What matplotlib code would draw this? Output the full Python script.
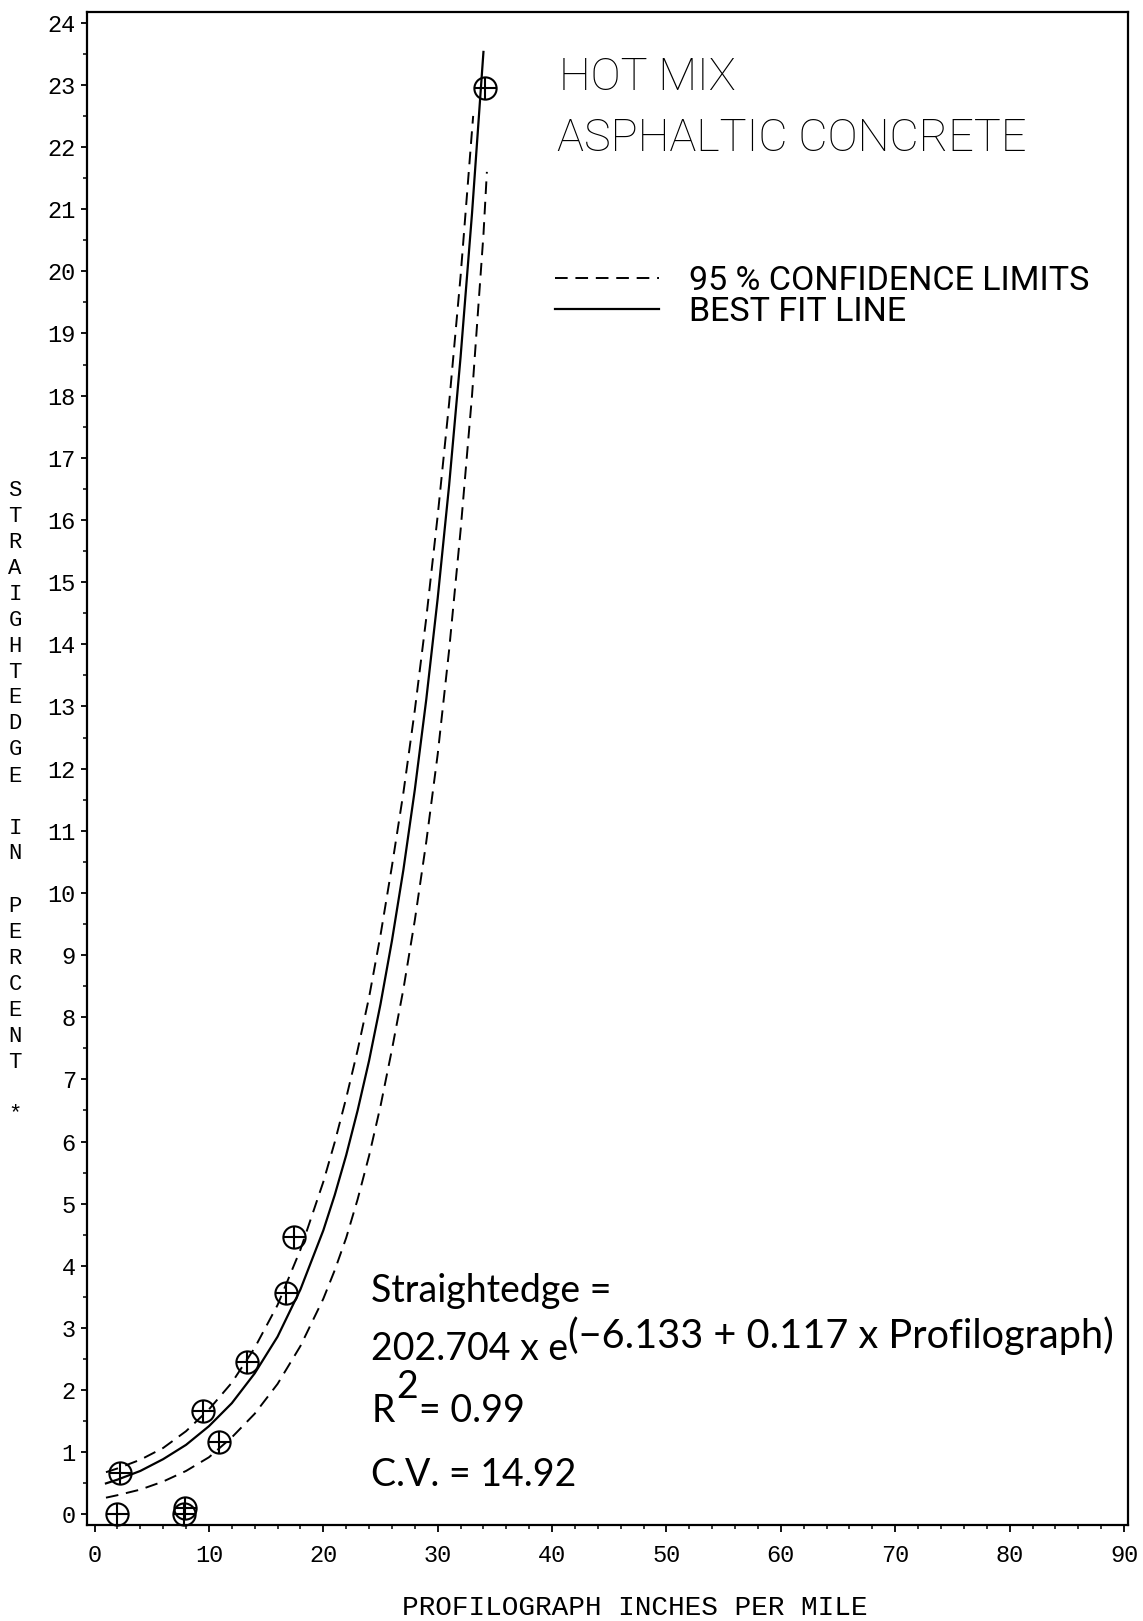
import matplotlib.pyplot as plt
from matplotlib.ticker import MultipleLocator

# measured sections: profilograph (in/mi) vs straightedge (%)
profilograph = [2.2, 2.0, 7.8, 7.9, 9.5, 10.9, 13.3, 16.7, 17.4, 34.1]
straightedge = [0.66, 0.0, 0.0, 0.1, 1.66, 1.17, 2.46, 3.57, 4.47, 22.95]

# best fit line
fit_x = [1, 2, 4, 6, 8, 10, 12, 14, 16, 18, 20, 21, 22, 23, 24, 25, 26, 27, 28,
         29, 30, 31, 32, 33, 34]
fit_y = [0.50, 0.56, 0.70, 0.89, 1.12, 1.42, 1.79, 2.27, 2.86, 3.62, 4.57, 5.14,
         5.78, 6.50, 7.30, 8.21, 9.23, 10.37, 11.66, 13.11, 14.74, 16.56, 18.62,
         20.93, 23.53]

# 95 % confidence limits
upper_x = [1, 2, 4, 6, 8, 10, 12, 14, 16, 18, 20, 21, 22, 23, 24, 25, 26, 27, 28,
           29, 30, 31, 32, 33.1]
upper_y = [0.68, 0.74, 0.88, 1.07, 1.34, 1.69, 2.12, 2.68, 3.37, 4.26, 5.35, 5.99,
           6.70, 7.47, 8.32, 9.32, 10.43, 11.61, 12.94, 14.42, 16.07, 17.88, 19.92,
           22.5]
lower_x = [1, 2, 4, 6, 8, 10, 12, 14, 16, 18, 20, 21, 22, 23, 24, 25, 26, 27, 28,
           29, 30, 31, 32, 33, 34, 34.3]
lower_y = [0.27, 0.31, 0.40, 0.53, 0.70, 0.92, 1.24, 1.62, 2.10, 2.71, 3.47, 3.93,
           4.45, 5.07, 5.77, 6.57, 7.48, 8.45, 9.56, 10.82, 12.23, 13.91, 15.83,
           18.0, 20.59, 21.6]

x_ticks = list(range(0, 91, 10))
y_ticks = list(range(0, 25))

mono = ['Liberation Mono', 'DejaVu Sans Mono']
narrow = ['Roboto', 'DejaVu Sans']
round_font = ['Lato', 'DejaVu Sans']

fig = plt.figure(figsize=(11.43, 16.21), dpi=100)
ax = fig.add_axes([0.0761, 0.0592, 0.9108, 0.9337])

dash = (6.5, 4)
upper_line, = ax.plot(upper_x, upper_y, color='black', lw=1.4, dashes=dash)
ax.plot(lower_x, lower_y, color='black', lw=1.4, dashes=dash)
fit_line, = ax.plot(fit_x, fit_y, color='black', lw=1.6)

# circled-plus markers
ax.plot(profilograph, straightedge, 'o', ms=16, mfc='none', mec='black', mew=1.5, clip_on=False)
ax.plot(profilograph, straightedge, '+', ms=16, color='black', mew=1.5, clip_on=False)

ax.set_xlim(-0.66, 90.35)
ax.set_ylim(-0.17, 24.18)
ax.set_xticks(x_ticks)
ax.set_yticks(y_ticks)
ax.xaxis.set_minor_locator(MultipleLocator(2))
ax.yaxis.set_minor_locator(MultipleLocator(0.5))
ax.tick_params(which='major', direction='out', length=5, width=1.3, pad=9, labelsize=17)
ax.tick_params(which='minor', direction='out', length=3, width=1.1)
ax.tick_params(axis='y', which='major', length=4, pad=4)
for lab in ax.get_xticklabels() + ax.get_yticklabels():
    lab.set_family(mono)
for sp in ax.spines.values():
    sp.set_linewidth(1.6)

ax.set_xlabel('PROFILOGRAPH INCHES PER MILE', family=mono, size=20)
ax.xaxis.set_label_coords(0.526, -0.0463)

# vertical stacked y label
ylab = 'STRAIGHTEDGE IN PERCENT *'
for i, ch in enumerate(ylab):
    if ch != ' ':
        fig.text(15 / 1143, 1 - (490 + i * 26.0) / 1621, ch, family=mono, size=16,
                 ha='center', va='center')

# title block
ax.text(40.6, 23.12, 'HOT MIX', family=narrow, size=32.5, weight='light', va='center')
ax.text(40.4, 22.14, 'ASPHALTIC CONCRETE', family=narrow, size=32.5, weight='light', va='center')

ax.legend([upper_line, fit_line], ['95 % CONFIDENCE LIMITS', 'BEST FIT LINE'],
          loc='upper left', bbox_to_anchor=(0.4496, 0.8325), frameon=False,
          borderpad=0, borderaxespad=0, handlelength=3.05, handletextpad=0.9,
          labelspacing=-0.03, prop={'family': narrow, 'size': 24.5})

# regression equation
eq = dict(family=round_font, size=27, va='center')
ax.text(24.2, 3.6, 'Straightedge =', **eq)
base = ax.text(24.2, 2.66, '202.704 x e', **eq)
ax.annotate('(\u22126.133 + 0.117 x Profilograph)', xy=(1, 0.5), xycoords=base,
            xytext=(0, 10), textcoords='offset points', family=round_font, size=28.5,
            va='center')
r = ax.text(24.2, 1.665, 'R', **eq)
two = ax.annotate('2', xy=(1, 0.5), xycoords=r, xytext=(1, 17),
                  textcoords='offset points', **eq)
ax.annotate('= 0.99', xy=(1, 0.5), xycoords=(two, r), xytext=(1, 0),
            textcoords='offset points', **eq)
ax.text(24.2, 0.635, 'C.V. = 14.92', **eq)

fig.savefig('out.png', dpi=100)
